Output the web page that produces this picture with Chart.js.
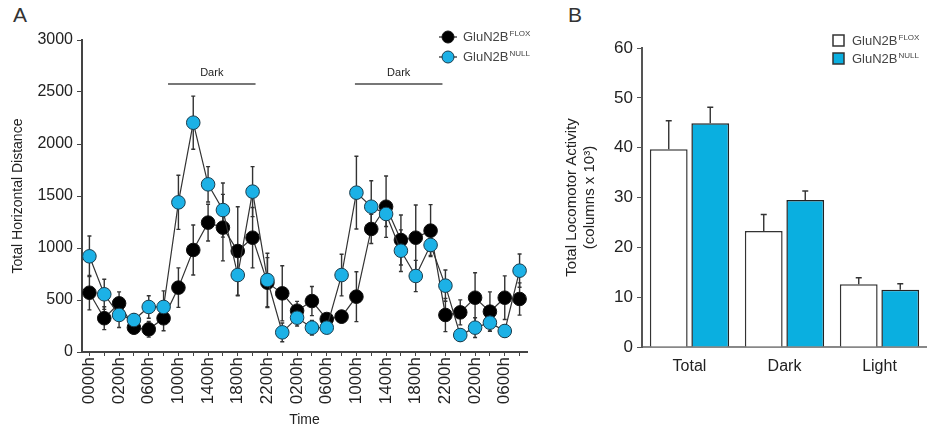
<!DOCTYPE html>
<html>
<head>
<meta charset="utf-8">
<script src="https://cdn.jsdelivr.net/npm/chart.js@4.4.0/dist/chart.umd.min.js"></script>
<style>
  body { margin: 0; background: #fff; width: 927px; height: 435px; overflow: hidden; position: relative;
         font-family: "Liberation Sans", Arial, sans-serif; }
  #wrapA { position: absolute; left: 0; top: 0; width: 545px; height: 435px; }
  #wrapB { position: absolute; left: 555px; top: 0; width: 372px; height: 435px; }
  .panel { position: absolute; font-size: 21px; color: #333; }
</style>
</head>
<body>
<div class="panel" style="left:13px;top:3px">A</div>
<div class="panel" style="left:568px;top:3px">B</div>
<div id="wrapA"><canvas id="chartA"></canvas></div>
<div id="wrapB"><canvas id="chartB"></canvas></div>
<script>
// time course (panel A), one point every 2 h, label on every other point
const timeLabels = ['0000h', '', '0200h', '', '0600h', '', '1000h', '', '1400h', '', '1800h', '', '2200h', '',
                    '0200h', '', '0600h', '', '1000h', '', '1400h', '', '1800h', '', '2200h', '', '0200h', '', '0600h', ''];
const floxMean = [570, 325, 468, 234, 218, 324, 619, 981, 1244, 1196, 971, 1099, 667, 564, 397,
                  490, 317, 340, 532, 1183, 1397, 1077, 1099, 1167, 356, 381, 522, 388, 522, 510];
const floxErr  = [165, 110, 110, 60, 75, 120, 190, 240, 177, 320, 425, 290, 240, 265, 90,
                  140, 50, 60, 240, 140, 295, 240, 315, 250, 160, 120, 240, 190, 210, 155];
const nullMean = [920, 555, 356, 308, 433, 433, 1439, 2205, 1612, 1365, 740, 1542, 692, 189, 330,
                  234, 234, 740, 1532, 1397, 1327, 974, 731, 1029, 638, 163, 234, 282, 202, 782];
const nullErr  = [195, 145, 120, 60, 108, 155, 260, 255, 170, 260, 200, 240, 257, 90, 80,
                  70, 50, 200, 350, 250, 120, 200, 150, 100, 150, 60, 95, 80, 60, 160];
// dark phases, in category index units
const darkSpans = [[5.3, 11.2], [17.9, 23.8]];

// totals (panel B)
const groups = ['Total', 'Dark', 'Light'];
const floxTotal = [39.7, 23.3, 12.6];
const floxTotalErr = [5.7, 3.3, 1.3];
const nullTotal = [44.9, 29.5, 11.5];
const nullTotalErr = [3.2, 1.8, 1.2];

const FONT = '"Liberation Sans", Arial, sans-serif';
const BLUE_PT = '#1cb1e6';
const BLUE_BAR = '#0aafe0';

// error bars, drawn from the dataset's "errors" array through the y scale
function errorBarPlugin(oneSided, behind) {
    const draw = chart => {
        const ctx = chart.ctx;
        const y = chart.scales.y;
        chart.data.datasets.forEach((ds, i) => {
            if (!ds.errors) return;
            const meta = chart.getDatasetMeta(i);
            ctx.save();
            ctx.strokeStyle = '#333';
            ctx.lineWidth = 1.4;
            meta.data.forEach((el, j) => {
                const v = ds.data[j], e = ds.errors[j];
                const top = y.getPixelForValue(v + e);
                const bot = oneSided ? y.getPixelForValue(v) : y.getPixelForValue(v - e);
                const cap = oneSided ? 3 : 2;
                ctx.beginPath();
                ctx.moveTo(el.x, top); ctx.lineTo(el.x, bot);
                ctx.moveTo(el.x - cap, top); ctx.lineTo(el.x + cap, top);
                if (!oneSided) { ctx.moveTo(el.x - cap, bot); ctx.lineTo(el.x + cap, bot); }
                ctx.stroke();
            });
            ctx.restore();
        });
    };
    return behind ? { id: 'errA', beforeDatasetsDraw: draw } : { id: 'errB', afterDatasetsDraw: draw };
}

function supText(ctx, base, sup, x, y) {
    ctx.font = '13px ' + FONT;
    ctx.fillText(base, x, y);
    const w = ctx.measureText(base).width;
    ctx.font = '8px ' + FONT;
    ctx.fillText(sup, x + w + 1, y - 3);
}

const extrasA = {
    id: 'extrasA',
    afterDraw(chart) {
        const ctx = chart.ctx;
        const x = chart.scales.x;
        ctx.save();
        // dark bars
        darkSpans.forEach(s => {
            const x0 = x.getPixelForValue(s[0]), x1 = x.getPixelForValue(s[1]);
            ctx.strokeStyle = '#777';
            ctx.lineWidth = 2;
            ctx.beginPath(); ctx.moveTo(x0, 84); ctx.lineTo(x1, 84); ctx.stroke();
            ctx.fillStyle = '#222';
            ctx.font = '11px ' + FONT;
            ctx.textAlign = 'center';
            ctx.textBaseline = 'middle';
            ctx.fillText('Dark', (x0 + x1) / 2, 73);
        });
        // legend
        const items = [['FLOX', '#000', '#111', 37], ['NULL', BLUE_PT, '#1b3c4c', 57]];
        items.forEach(it => {
            ctx.strokeStyle = '#222';
            ctx.lineWidth = 1.2;
            ctx.beginPath(); ctx.moveTo(439, it[3]); ctx.lineTo(457, it[3]); ctx.stroke();
            ctx.beginPath(); ctx.arc(448, it[3], 6, 0, Math.PI * 2);
            ctx.fillStyle = it[1]; ctx.fill();
            ctx.strokeStyle = it[2]; ctx.lineWidth = 1; ctx.stroke();
            ctx.fillStyle = '#444';
            ctx.textAlign = 'left';
            ctx.textBaseline = 'middle';
            supText(ctx, 'GluN2B', it[0], 463, it[3]);
        });
        ctx.restore();
    }
};

const extrasB = {
    id: 'extrasB',
    afterDraw(chart) {
        const ctx = chart.ctx;
        ctx.save();
        const items = [['FLOX', '#fff', 35], ['NULL', BLUE_BAR, 53]];
        items.forEach(it => {
            ctx.fillStyle = it[1];
            ctx.fillRect(278, it[2], 11, 11);
            ctx.strokeStyle = '#333'; ctx.lineWidth = 1.5;
            ctx.strokeRect(278, it[2], 11, 11);
            ctx.fillStyle = '#444';
            ctx.textAlign = 'left';
            ctx.textBaseline = 'middle';
            supText(ctx, 'GluN2B', it[0], 297, it[2] + 6);
        });
        ctx.restore();
    }
};

Chart.defaults.font.family = FONT;
Chart.defaults.color = '#222';

new Chart(document.getElementById('chartA'), {
    type: 'line',
    data: {
        labels: timeLabels,
        datasets: [
            { label: 'GluN2B NULL', data: nullMean, errors: nullErr, order: 1,
              borderColor: '#333', borderWidth: 1.2, tension: 0,
              pointRadius: 6.8, pointBackgroundColor: BLUE_PT, pointBorderColor: '#1b3c4c', pointBorderWidth: 1 },
            { label: 'GluN2B FLOX', data: floxMean, errors: floxErr, order: 2,
              borderColor: '#333', borderWidth: 1.2, tension: 0,
              pointRadius: 6.8, pointBackgroundColor: '#000', pointBorderColor: '#111', pointBorderWidth: 1 }
        ]
    },
    options: {
        responsive: true,
        maintainAspectRatio: false,
        animation: false,
        layout: { padding: { left: 6, top: 40, right: 18, bottom: 6 } },
        plugins: { legend: { display: false }, tooltip: { enabled: false } },
        scales: {
            x: {
                offset: true,
                grid: { drawOnChartArea: false, offset: false, tickLength: 4, color: '#444' },
                border: { color: '#444', width: 2 },
                ticks: { autoSkip: false, maxRotation: 90, minRotation: 90, font: { size: 17 }, padding: 1 },
                title: { display: true, text: 'Time', font: { size: 14 }, padding: { top: 0, bottom: 0 } },
                afterFit(s) { s.height = 77; }
            },
            y: {
                min: 0, max: 3000,
                grid: { drawOnChartArea: false, tickLength: 5, color: '#444' },
                border: { color: '#444', width: 2 },
                ticks: { stepSize: 500, font: { size: 16 }, padding: 4, callback: v => String(v) },
                title: { display: true, text: 'Total Horizontal Distance', font: { size: 14 } },
                afterFit(s) { s.width = 76; }
            }
        }
    },
    plugins: [errorBarPlugin(false, true), extrasA]
});

new Chart(document.getElementById('chartB'), {
    type: 'bar',
    data: {
        labels: groups,
        datasets: [
            { label: 'GluN2B FLOX', data: floxTotal, errors: floxTotalErr,
              backgroundColor: '#fff', borderColor: '#333', borderWidth: 1.5 },
            { label: 'GluN2B NULL', data: nullTotal, errors: nullTotalErr,
              backgroundColor: BLUE_BAR, borderColor: '#222', borderWidth: 1.5 }
        ]
    },
    options: {
        responsive: true,
        maintainAspectRatio: false,
        animation: false,
        layout: { padding: { left: 6, top: 48, right: 0, bottom: 0 } },
        plugins: { legend: { display: false }, tooltip: { enabled: false } },
        datasets: { bar: { categoryPercentage: 0.874, barPercentage: 0.91 } },
        scales: {
            x: {
                grid: { display: false },
                border: { color: '#888', width: 2 },
                ticks: { font: { size: 16 }, padding: 2 },
                afterFit(s) { s.height = 88; }
            },
            y: {
                min: 0, max: 60,
                grid: { drawOnChartArea: false, tickLength: 5, color: '#555' },
                border: { color: '#555', width: 2 },
                ticks: { stepSize: 10, font: { size: 17 }, padding: 4 },
                title: { display: true, text: ['Total Locomotor Activity', '(columns x 10\u00b3)'], font: { size: 15 }, padding: 2 },
                afterFit(s) { s.width = 81; }
            }
        }
    },
    plugins: [errorBarPlugin(true, false), extrasB]
});
</script>
</body>
</html>
